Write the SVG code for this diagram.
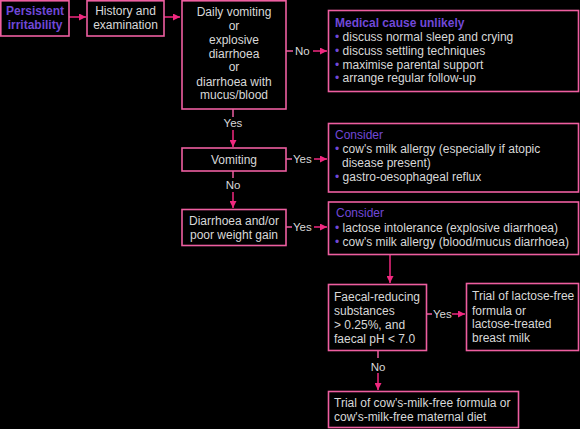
<svg xmlns="http://www.w3.org/2000/svg" width="580" height="429" viewBox="0 0 580 429">
<defs>
<marker id="ah" viewBox="0 0 10 10" refX="10" refY="5" markerWidth="7" markerHeight="7" markerUnits="userSpaceOnUse" orient="auto">
<path d="M0,0 L10,5 L0,10 z" fill="#f0287f"/>
</marker>
<style>
.box{fill:#000;stroke:#ee5ea0;stroke-width:1.6}
text{font-family:"Liberation Sans",Arial,sans-serif;font-size:12px;fill:#d8d8d8}
.c{text-anchor:middle}
.t{fill:#7048d8;font-weight:bold}
.h{fill:#7048d8}
.b{fill:#7048d8}
.ln{stroke:#ee5ea0;stroke-width:1.5;fill:none}
.ar{stroke:#f0287f;stroke-width:1.5;fill:none;marker-end:url(#ah)}
.lab{font-size:11.5px}
</style>
</defs>
<rect width="580" height="429" fill="#000"/>

<g id="connectors">
<line class="ar" x1="69" y1="17" x2="86" y2="17"/>
<line class="ar" x1="164" y1="17" x2="180" y2="17"/>
<line class="ln" x1="286" y1="51" x2="293" y2="51"/>
<text class="lab" x="295" y="55">No</text>
<line class="ar" x1="313" y1="51" x2="327" y2="51"/>
<line class="ln" x1="233" y1="109" x2="233" y2="117"/>
<text class="lab c" x="233" y="127">Yes</text>
<line class="ar" x1="233" y1="130" x2="233" y2="147"/>
<line class="ln" x1="286" y1="159" x2="292" y2="159"/>
<text class="lab" x="293" y="163">Yes</text>
<line class="ar" x1="314" y1="159" x2="327" y2="159"/>
<line class="ln" x1="233" y1="171" x2="233" y2="178"/>
<text class="lab c" x="233" y="189">No</text>
<line class="ar" x1="233" y1="192" x2="233" y2="208"/>
<line class="ln" x1="286" y1="227" x2="292" y2="227"/>
<text class="lab" x="293" y="231">Yes</text>
<line class="ar" x1="314" y1="227" x2="327" y2="227"/>
<line class="ar" x1="390" y1="255" x2="390" y2="283"/>
<line class="ln" x1="427" y1="314" x2="432" y2="314"/>
<text class="lab" x="433" y="318">Yes</text>
<line class="ar" x1="452" y1="314" x2="465" y2="314"/>
<line class="ln" x1="378" y1="351" x2="378" y2="358"/>
<text class="lab c" x="378" y="371">No</text>
<line class="ar" x1="378" y1="373" x2="378" y2="390"/>
</g>

<g id="persistent">
<rect class="box" x="0.8" y="0.8" width="68.2" height="35.2"/>
<text class="t c" x="35" y="15">Persistent</text>
<text class="t c" x="35" y="29">irritability</text>
</g>

<g id="history">
<rect class="box" x="87" y="0.8" width="77" height="35.2"/>
<text class="c" x="125.5" y="15">History and</text>
<text class="c" x="125.5" y="29">examination</text>
</g>

<g id="daily">
<rect class="box" x="182" y="0.8" width="104" height="108.2"/>
<text class="c" x="234" y="16">Daily vomiting</text>
<text class="c" x="234" y="30">or</text>
<text class="c" x="234" y="44">explosive</text>
<text class="c" x="234" y="57.5">diarrhoea</text>
<text class="c" x="234" y="71">or</text>
<text class="c" x="234" y="85.5">diarrhoea with</text>
<text class="c" x="234" y="99">mucus/blood</text>
</g>

<g id="medical">
<rect class="box" x="328.5" y="10.5" width="250" height="81"/>
<text class="t" x="335" y="27">Medical cause unlikely</text>
<text x="335" y="40.5"><tspan class="b">•</tspan> discuss normal sleep and crying</text>
<text x="335" y="54.5"><tspan class="b">•</tspan> discuss settling techniques</text>
<text x="335" y="68.5"><tspan class="b">•</tspan> maximise parental support</text>
<text x="335" y="82"><tspan class="b">•</tspan> arrange regular follow-up</text>
</g>

<g id="vomiting">
<rect class="box" x="182" y="148" width="104" height="23"/>
<text class="c" x="234" y="163.5">Vomiting</text>
</g>

<g id="consider1">
<rect class="box" x="328.5" y="123.5" width="250" height="68.5"/>
<text class="h" x="335" y="138.5">Consider</text>
<text x="335" y="153"><tspan class="b">•</tspan> cow's milk allergy (especially if atopic</text>
<text x="342" y="167">disease present)</text>
<text x="335" y="181"><tspan class="b">•</tspan> gastro-oesophageal reflux</text>
</g>

<g id="diarrhoea">
<rect class="box" x="182" y="209.5" width="104" height="36"/>
<text class="c" x="234" y="225">Diarrhoea and/or</text>
<text class="c" x="234" y="238.5">poor weight gain</text>
</g>

<g id="consider2">
<rect class="box" x="328.5" y="202" width="250" height="52.5"/>
<text class="h" x="336" y="217">Consider</text>
<text x="335" y="231.5"><tspan class="b">•</tspan> lactose intolerance (explosive diarrhoea)</text>
<text x="335" y="246"><tspan class="b">•</tspan> cow's milk allergy (blood/mucus diarrhoea)</text>
</g>

<g id="faecal">
<rect class="box" x="328.5" y="284.5" width="98" height="66"/>
<text x="334" y="301">Faecal-reducing</text>
<text x="334" y="315">substances</text>
<text x="334" y="328.5">&gt; 0.25%, and</text>
<text x="334" y="343">faecal pH &lt; 7.0</text>
</g>

<g id="lactosefree">
<rect class="box" x="466.5" y="283.5" width="112" height="67"/>
<text x="472" y="300">Trial of lactose-free</text>
<text x="472" y="314.5">formula or</text>
<text x="472" y="328">lactose-treated</text>
<text x="472" y="342">breast milk</text>
</g>

<g id="cowsmilkfree">
<rect class="box" x="328.5" y="391.5" width="190" height="36"/>
<text x="334" y="407">Trial of cow's-milk-free formula or</text>
<text x="334" y="420.5">cow's-milk-free maternal diet</text>
</g>
</svg>
